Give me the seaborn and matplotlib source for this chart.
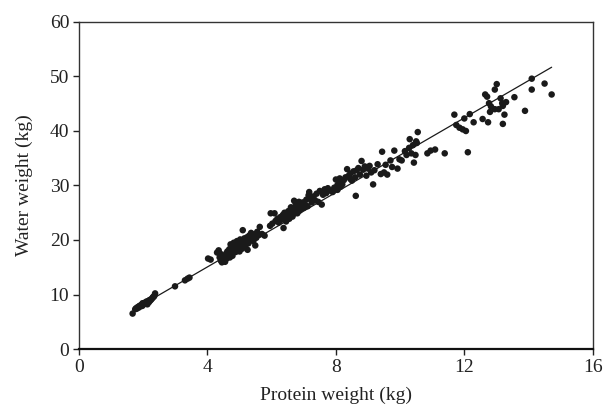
import matplotlib
matplotlib.use("Agg")
import matplotlib.pyplot as plt
import seaborn as sns
import pandas as pd

# Protein weight (kg)
protein = [
    1.67, 1.75, 1.78, 1.80, 1.83, 1.86, 1.88, 1.90, 1.92, 1.95, 1.97, 2.00, 2.02, 2.05, 2.07,
    2.10, 2.12, 2.15, 2.18, 2.20, 2.22, 2.25, 2.28, 2.30, 2.33, 2.35, 2.37, 2.13, 1.98,
    2.99, 3.30, 3.38, 3.44,
    4.02, 4.10, 4.30, 4.35, 4.38, 4.42, 4.45, 4.50, 4.52, 4.55, 4.58, 4.60, 4.62, 4.65, 4.68,
    4.70, 4.72, 4.75, 4.78, 4.80, 4.82, 4.85, 4.88, 4.90, 4.92, 4.95, 4.97, 5.00, 5.02, 5.05,
    5.08, 5.10, 5.12, 5.15, 5.18, 5.20, 5.23, 5.25, 5.28, 5.30, 5.33, 5.36, 5.40, 5.43, 5.46,
    5.49, 5.52, 5.55, 5.60, 5.63, 5.70, 5.78, 4.40, 4.85, 5.00, 4.70,
    5.95, 5.97, 6.02, 6.09, 6.12, 6.18, 6.22, 6.27, 6.30, 6.35, 6.37, 6.40, 6.43, 6.48, 6.52,
    6.55, 6.58, 6.62, 6.65, 6.68, 6.70, 6.72, 6.75, 6.78, 6.80, 6.83, 6.87, 6.90, 6.93, 6.97,
    7.00, 7.05, 7.08, 7.12, 7.15, 7.17, 7.20, 7.25, 7.30, 7.35, 7.40, 7.45, 7.50, 7.56, 7.60,
    7.65, 7.70, 7.75, 6.45, 6.60, 6.85,
    7.85, 7.90, 7.95, 8.00, 8.05, 8.10, 8.12, 8.15, 8.20, 8.25, 8.30, 8.35, 8.40, 8.45, 8.50,
    8.55, 8.60, 8.62, 8.65, 8.70, 8.75, 8.80, 8.85, 8.90, 8.95, 9.00, 9.05, 9.10, 9.16, 9.20,
    9.30, 9.40, 9.44, 9.50, 9.55, 9.60, 9.70, 9.75, 9.82, 9.92, 9.98, 8.05, 8.45,
    10.05, 10.15, 10.20, 10.28, 10.30, 10.35, 10.40, 10.43, 10.48, 10.50, 10.55, 10.52,
    10.85, 10.95, 11.09, 11.39,
    11.69, 11.75, 11.85, 11.95, 12.05, 12.00, 12.17, 12.11, 12.29, 12.57, 12.65, 12.71,
    12.74, 12.95, 13.01, 12.77, 12.83, 12.80, 12.95, 13.07, 13.13, 13.20, 13.18, 13.25,
    13.20, 13.30, 13.56, 13.89, 14.10, 14.10, 14.50, 14.72,
]

# Water weight (kg)
water = [
    6.5, 7.3, 7.5, 7.4, 7.7, 7.6, 7.9, 7.8, 8.0, 8.1, 7.9, 8.3, 8.2, 8.5, 8.4,
    8.7, 8.5, 8.8, 8.6, 9.0, 8.9, 9.1, 9.3, 9.5, 9.6, 9.8, 10.2, 8.2, 8.4,
    11.5, 12.6, 12.9, 13.1,
    16.6, 16.4, 17.7, 18.1, 16.8, 16.2, 15.9, 16.3, 17.0, 16.0, 17.5, 16.6, 17.9, 17.2, 18.3,
    17.6, 19.2, 18.0, 17.1, 18.6, 19.5, 18.2, 17.8, 19.0, 19.8, 18.5, 19.6, 18.9, 20.1, 19.3,
    18.4, 21.8, 19.7, 20.3, 18.9, 19.9, 20.5, 18.2, 19.4, 20.8, 20.0, 21.3, 20.6, 19.8, 21.0,
    19.0, 20.4, 21.5, 20.9, 22.4, 21.1, 20.8, 17.5, 19.4, 17.9, 16.8,
    22.6, 24.9, 23.0, 24.9, 23.5, 23.9, 23.2, 24.2, 23.7, 24.6, 22.2, 25.0, 24.1, 24.6, 25.3,
    23.9, 24.8, 25.5, 24.3, 25.9, 27.2, 25.1, 26.8, 25.6, 24.9, 26.1, 25.4, 26.5, 25.8, 26.9,
    25.9, 26.4, 27.4, 26.2, 28.2, 28.8, 27.6, 26.9, 28.0, 27.3, 28.5, 27.0, 29.0, 26.5, 28.3,
    29.3, 28.6, 29.5, 23.4, 26.0, 27.0,
    29.0, 28.8, 29.6, 31.1, 29.2, 30.5, 31.3, 29.8, 30.2, 31.0, 31.5, 33.0, 31.8, 32.2, 30.9,
    32.6, 31.5, 28.1, 32.8, 33.2, 32.0, 34.5, 32.9, 33.5, 31.8, 33.1, 33.6, 32.4, 30.2, 32.8,
    33.9, 32.1, 36.2, 32.4, 33.8, 32.0, 34.6, 33.4, 36.4, 33.1, 34.8, 30.1, 31.2,
    34.6, 36.3, 35.6, 36.9, 38.5, 35.9, 37.4, 34.2, 35.6, 38.1, 39.8, 37.8,
    35.9, 36.4, 36.6, 35.9,
    43.0, 41.1, 40.6, 40.3, 40.0, 42.3, 43.1, 36.1, 41.6, 42.2, 46.7, 46.3,
    41.6, 47.6, 48.6, 45.1, 44.5, 43.5, 44.0, 44.0, 46.0, 44.6, 45.1, 43.0,
    41.3, 45.3, 46.2, 43.7, 49.6, 47.6, 48.7, 46.7,
]

# Fitted line endpoints
fit_x = [1.70, 14.72]
fit_y = [7.2, 51.7]

x_ticks = [0, 4, 8, 12, 16]
y_ticks = [0, 10, 20, 30, 40, 50, 60]

df = pd.DataFrame({"Protein weight (kg)": protein, "Water weight (kg)": water})
fit = pd.DataFrame({"x": fit_x, "y": fit_y})

sns.set_theme(style="ticks")
plt.rcParams["font.family"] = ["Liberation Serif", "DejaVu Serif"]

fig = plt.figure(figsize=(6.03, 4.08), dpi=100)
ax = fig.add_axes([0.131, 0.1446, 0.852, 0.8015])

sns.scatterplot(data=df, x="Protein weight (kg)", y="Water weight (kg)", ax=ax,
                s=22, color="#1a1a1a", edgecolor="none", linewidth=0, zorder=2)
sns.lineplot(data=fit, x="x", y="y", ax=ax, color="#1a1a1a", linewidth=0.9, zorder=3)

ax.set_xlim(0, 16)
ax.set_ylim(0, 60)
ax.set_xticks(x_ticks)
ax.set_yticks(y_ticks)
ax.set_xlabel("Protein weight (kg)", fontsize=14, color="#222222", labelpad=8)
ax.set_ylabel("Water weight (kg)", fontsize=14, color="#222222", labelpad=12)
ax.tick_params(axis="both", labelsize=14, colors="#222222", direction="out",
               length=4, width=1, pad=3)

for side in ["top", "right", "left"]:
    ax.spines[side].set_visible(True)
    ax.spines[side].set_color("#333333")
    ax.spines[side].set_linewidth(1.0)
ax.spines["bottom"].set_color("#111111")
ax.spines["bottom"].set_linewidth(1.6)

fig.savefig("out.png", dpi=100)
